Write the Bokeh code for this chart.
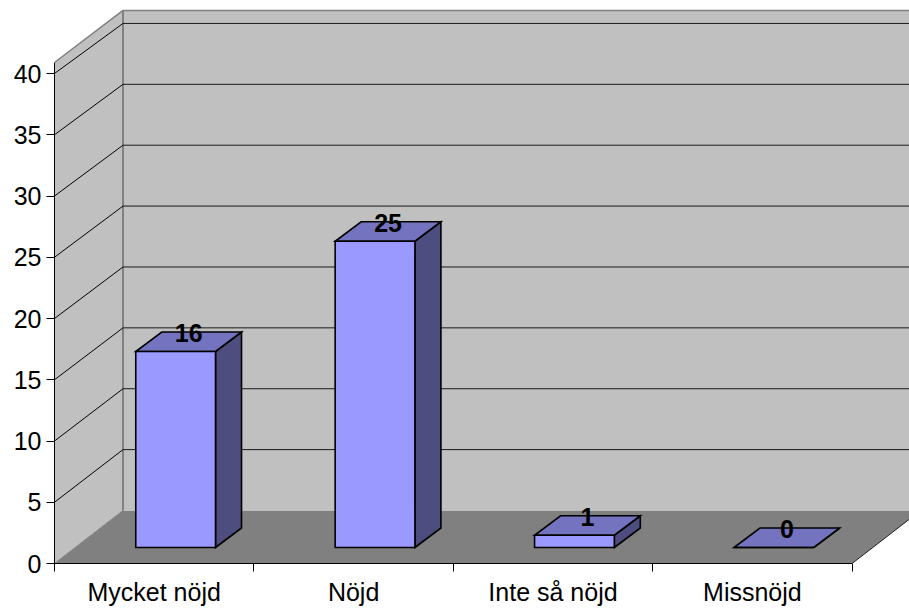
from bokeh.plotting import figure
from bokeh.models import FixedTicker, Range1d
from bokeh.core.properties import value
from bokeh.embed import file_html
from bokeh.resources import INLINE

categories = ["Mycket nöjd", "Nöjd", "Inte så nöjd", "Missnöjd"]
counts = [16, 25, 1, 0]
y_ticks = [0, 5, 10, 15, 20, 25, 30, 35, 40]

FONT = "Liberation Sans"
W, H = 909, 612
LEFT, BOTTOM = 54, 49
X_UNIT, Y_UNIT = 199.4, 12.25
x_end = (W - LEFT) / X_UNIT
y_end = (H - BOTTOM) / Y_UNIT

# 3D projection offsets, in data units
DX, DY = 68.5 / X_UNIT, 53 / Y_UNIT
BACK_K = 0.994
Y_TOP_FRONT, Y_TOP_BACK = 40.9, 45.15
BAR_W = 0.4
FRONT_DX, FRONT_DY = 0.4075, 16 / Y_UNIT
BAR_DX, BAR_DY = 26 / X_UNIT, 19.5 / Y_UNIT

p = figure(width=W, height=H, output_backend="svg", toolbar_location=None,
           x_range=Range1d(0, x_end), y_range=Range1d(0, y_end),
           min_border_left=LEFT, min_border_bottom=BOTTOM, min_border_top=0, min_border_right=0,
           background_fill_color="white", border_fill_color="white")
p.outline_line_color = None
p.grid.visible = False

# floor
p.patch([0, 4, x_end, x_end, DX], [0, 0, (x_end - 4) * DY / DX, DY, DY],
        fill_color="#808080", line_color=None)
# back wall
p.patch([DX, x_end, x_end, DX], [DY, DY, Y_TOP_BACK, Y_TOP_BACK], fill_color="#C0C0C0", line_color=None)
# left wall
p.patch([0, DX, DX, 0], [0, DY, Y_TOP_BACK, Y_TOP_FRONT], fill_color="#C0C0C0", line_color=None)
# wall edges
p.line([0, DX, x_end], [Y_TOP_FRONT, Y_TOP_BACK, Y_TOP_BACK], line_color="#808080", line_width=1.5)
p.line([DX, DX], [DY, Y_TOP_BACK], line_color="#808080", line_width=2)
p.line([0, DX], [0, DY], line_color="#808080", line_width=1)
# floor front-right edge
p.line([4, x_end], [0, (x_end - 4) * DY / DX], line_color="#202020", line_width=1)

# gridlines on the two walls
grid = y_ticks[1:]
p.multi_line([[0, DX] for _ in grid], [[v, DY + v * BACK_K] for v in grid], line_color="black", line_width=1)
p.multi_line([[DX, x_end] for _ in grid], [[DY + v * BACK_K] * 2 for v in grid], line_color="#1a1a1a", line_width=1)

# bars
for i, v in enumerate(counts):
    x0 = i + FRONT_DX
    x1 = x0 + BAR_W
    y0 = FRONT_DY
    y1 = y0 + v
    style = dict(line_color="black", line_width=1.6, line_join="miter")
    p.patch([x1, x1 + BAR_DX, x1 + BAR_DX, x1], [y0, y0 + BAR_DY, y1 + BAR_DY, y1], fill_color="#4D4D80", **style)
    p.patch([x0, x1, x1 + BAR_DX, x0 + BAR_DX], [y1, y1, y1 + BAR_DY, y1 + BAR_DY], fill_color="#7373BF", **style)
    p.patch([x0, x1, x1, x0], [y0, y0, y1, y1], fill_color="#9999FF", **style)

# data labels
p.text([i + FRONT_DX + BAR_W / 2 + BAR_DX / 2 for i in range(len(counts))],
       [FRONT_DY + v + BAR_DY / 2 for v in counts],
       text=[str(v) for v in counts], text_align="center", text_baseline="middle", y_offset=-9,
       text_font=value(FONT), text_font_style="bold", text_font_size="25px", text_color="black")

# axes
ya = p.yaxis[0]
ya.ticker = FixedTicker(ticks=y_ticks)
ya.bounds = (0, Y_TOP_FRONT)
ya.axis_line_color = "black"
ya.major_tick_line_color = "black"
ya.major_tick_in = 0
ya.major_tick_out = 8
ya.minor_tick_out = 0
ya.minor_tick_in = 0
ya.major_label_standoff = 5
ya.major_label_text_font = FONT
ya.major_label_text_font_size = "25px"
ya.major_label_text_color = "black"

xa = p.xaxis[0]
xa.ticker = FixedTicker(ticks=[i + 0.5 for i in range(len(categories))], minor_ticks=list(range(len(categories) + 1)))
xa.major_label_overrides = {i + 0.5: c for i, c in enumerate(categories)}
xa.bounds = (0, 4)
xa.axis_line_color = "black"
xa.major_tick_in = 0
xa.major_tick_out = 0
xa.minor_tick_in = 0
xa.minor_tick_out = 8
xa.minor_tick_line_color = "black"
xa.major_label_standoff = 6
xa.major_label_text_font = FONT
xa.major_label_text_font_size = "25px"
xa.major_label_text_color = "black"

open("out.html", "w").write(file_html(p, INLINE))
